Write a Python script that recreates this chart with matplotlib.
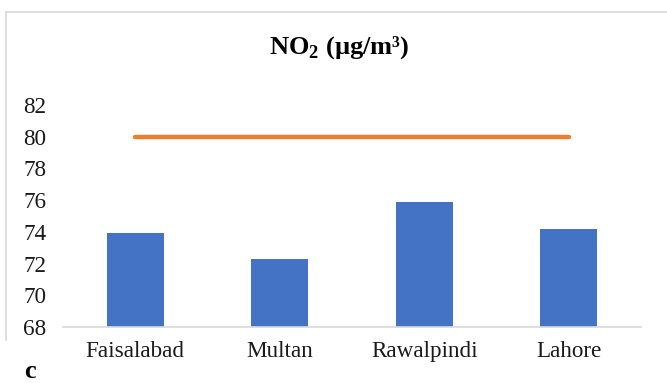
import matplotlib.pyplot as plt
from matplotlib.lines import Line2D

# NO2 concentrations by city, with the 80 µg/m³ limit line
cities = ['Faisalabad', 'Multan', 'Rawalpindi', 'Lahore']
no2 = [73.95, 72.3, 75.85, 74.15]
limit = [80, 80, 80, 80]
yticks = [68, 70, 72, 74, 76, 78, 80, 82]

plt.rcParams['font.family'] = ['Liberation Serif', 'DejaVu Serif']
plt.rcParams['mathtext.fontset'] = 'custom'
plt.rcParams['mathtext.rm'] = 'Liberation Serif'
plt.rcParams['mathtext.bf'] = 'Liberation Serif:bold'

fig = plt.figure(figsize=(6.67, 3.83), dpi=100)
ax = fig.add_axes([0.0945, 0.1462, 0.8665, 0.5798])

x = range(len(cities))
ax.bar(x, no2, width=0.395, color='#4472C4', zorder=2)
ax.plot(x, limit, color='#ED7D31', linewidth=3.2, solid_capstyle='round', zorder=3)

ax.set_xlim(-0.5, len(cities) - 0.5)
ax.set_ylim(68, 82)
ax.set_yticks(yticks)
ax.set_xticks(list(x))
ax.set_xticklabels(cities)
ax.tick_params(axis='both', length=0, labelsize=16.7, colors='#1a1a1a')
ax.tick_params(axis='y', pad=12)
ax.tick_params(axis='x', pad=10)

for side in ['top', 'right', 'left']:
    ax.spines[side].set_visible(False)
ax.spines['bottom'].set_color('#D9D9D9')
ax.spines['bottom'].set_linewidth(1.2)

fig.text(0.508, 0.875, r'NO$_\mathbf{2}$ (µg/m³)', ha='center', va='center',
         fontsize=19, fontweight='bold')
fig.text(0.045, 0.03, 'c', ha='center', va='center', fontsize=19, fontweight='bold')

# light frame around the chart area
fig.add_artist(Line2D([0.009, 1.0], [0.969, 0.969], color='#D9D9D9', linewidth=1.2,
                      transform=fig.transFigure))
fig.add_artist(Line2D([0.009, 0.009], [0.112, 0.969], color='#D9D9D9', linewidth=1.2,
                      transform=fig.transFigure))

fig.savefig('out.png', dpi=100)
